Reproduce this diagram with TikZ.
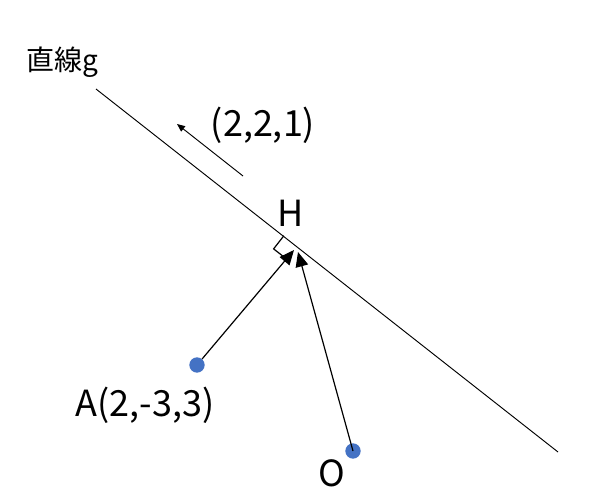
\documentclass[tikz,border=0pt]{standalone}
\usepackage{fontspec}
\setmainfont{Noto Sans CJK JP}
\usetikzlibrary{arrows.meta,calc}
\definecolor{dotblue}{HTML}{4472C4}

\begin{document}
\begin{tikzpicture}[x=0.75pt,y=-0.75pt,
    dot/.style={circle,fill=dotblue,inner sep=0pt,minimum size=11.5pt},
    lbl/.style={font=\fontsize{27}{32}\selectfont,inner sep=0pt},
    vec/.style={-{Triangle[length=11pt,width=9.5pt]},line width=0.9pt}]
    \useasboundingbox (0,0) rectangle (595,503);

    % line g
    \coordinate (g1) at (96,89);
    \coordinate (g2) at (558,452);
    \draw[line width=0.7pt] (g1) -- (g2);
    \node[font=\fontsize{21}{25}\selectfont,inner sep=0pt] (gname) at (62,62) {直線g};

    % direction vector
    \coordinate (d1) at (243,176);
    \coordinate (d2) at (177,124);
    \draw[-{Triangle[length=6pt,width=5pt]},line width=0.7pt] (d1) -- (d2);
    \node[lbl] (dir) at (263,125) {(2,2,1)};

    % foot H and right angle
    \coordinate (H) at (297,246);
    \node[lbl] (Hname) at (291,213) {H};
    \coordinate (r1) at ($(H)!12.5pt!(g1)$);
    \coordinate (r3) at ($(H)!12.5pt!90:(g1)$);
    \coordinate (r2) at ($(r1)+(r3)-(H)$);
    \draw[line width=0.9pt] (r1) -- (r2) -- (r3);

    % points A and O
    \node[dot] (A) at (197,365) {};
    \node[dot] (O) at (353,451) {};
    \node[lbl] (Aname) at (145,405) {A(2,-3,3)};
    \node[lbl] (Oname) at (332,473) {O};

    \coordinate (HA) at (294,250);
    \coordinate (HO) at (298,252);
    \draw[vec] (A) -- (HA);
    \draw[vec] (O.center) -- (HO);
\end{tikzpicture}
\end{document}
